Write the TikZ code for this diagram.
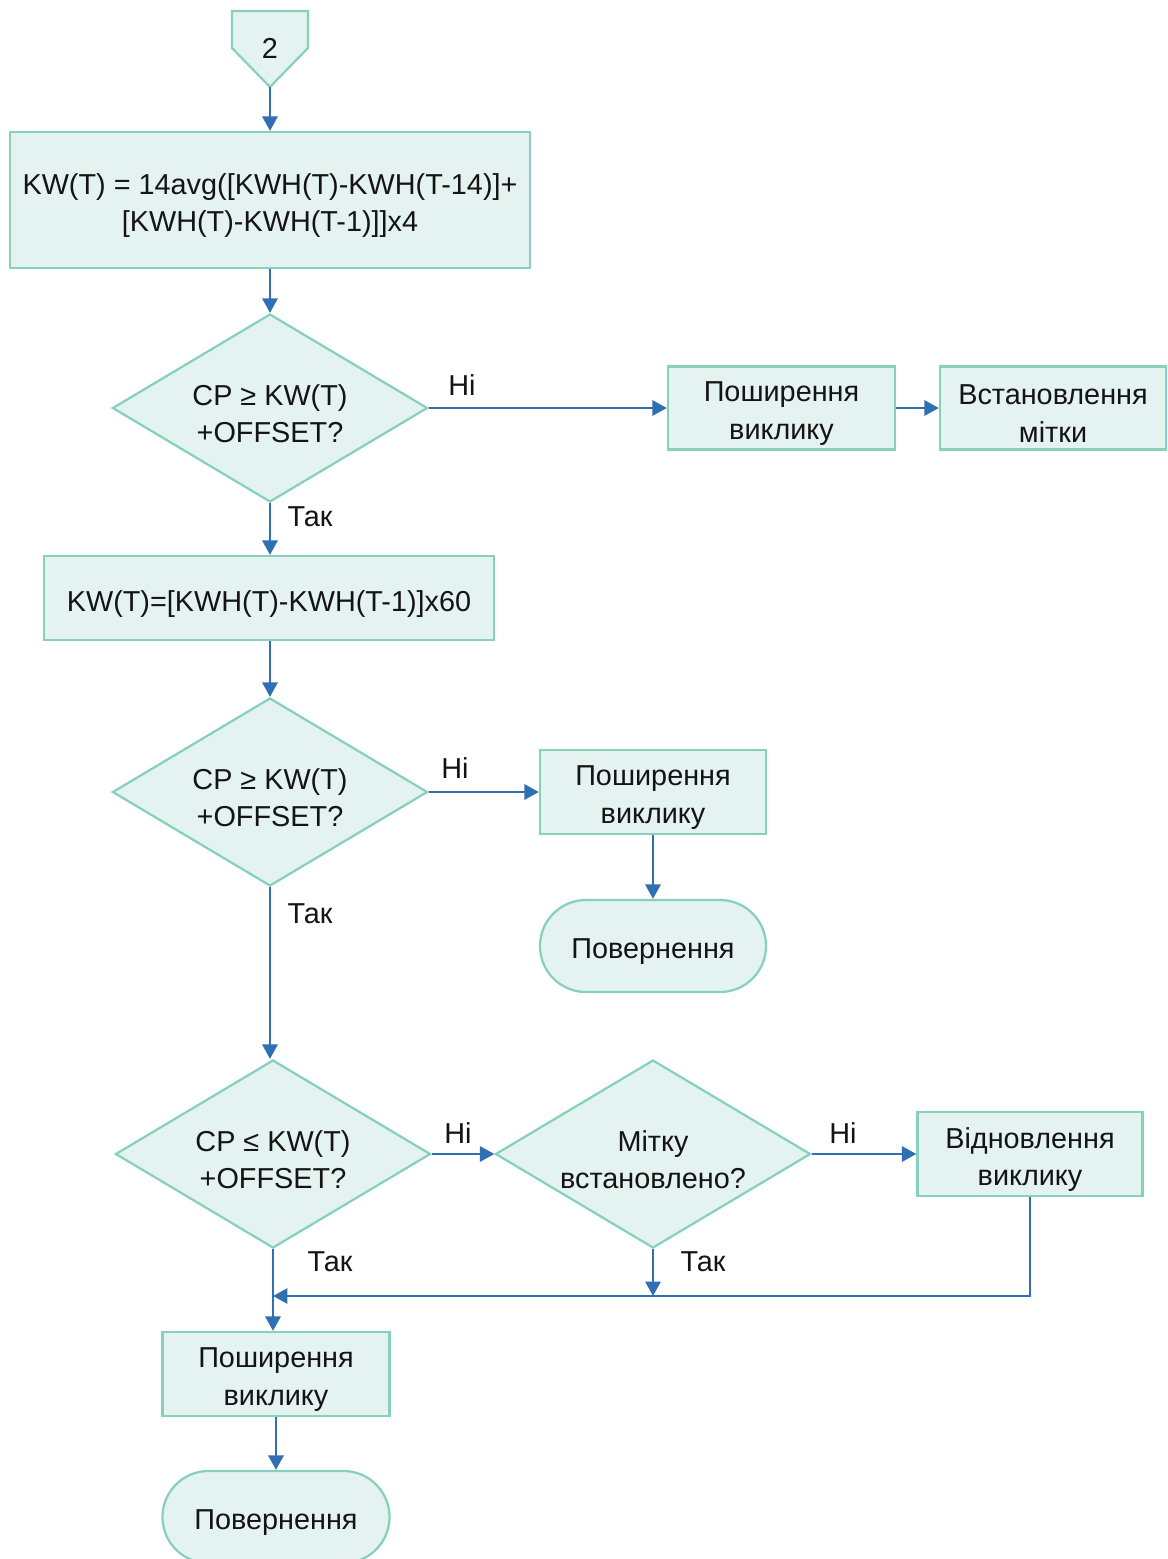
\documentclass[tikz,border=0pt]{standalone}
\usepackage{fontspec}
\setmainfont{Liberation Sans}
\usetikzlibrary{arrows.meta,shapes.geometric}
\definecolor{boxfill}{RGB}{228,243,239}
\definecolor{boxline}{RGB}{135,208,192}
\definecolor{flow}{RGB}{48,112,178}
\definecolor{ink}{RGB}{20,20,20}

\begin{document}
\begin{tikzpicture}[x=0.025cm,y=-0.025cm,
  every node/.style={font=\fontsize{20.5}{26.5}\selectfont, text=ink},
  textlbl/.style={align=center, inner sep=0pt, yshift=-0.14cm},
  txt/.style={label={[textlbl]center:#1}},
  shapebase/.style={draw=boxline, fill=boxfill, line width=1.6pt, inner sep=0pt},
  procbox/.style args={#1 by #2}{shapebase, rectangle, minimum width=#1, minimum height=#2},
  decision/.style={shapebase, diamond, aspect=1.6, minimum width=7.875cm, minimum height=4.7cm},
  terminal/.style={shapebase, rectangle, rounded corners=1.15cm, minimum width=5.675cm, minimum height=2.3cm},
  flowline/.style={draw=flow, line width=1.7pt},
  flowarrow/.style={flowline, -{Triangle[length=0.36cm,width=0.38cm]}},
  lbl/.style={anchor=center, inner sep=0pt}]

\useasboundingbox (0,0) rectangle (1168,1559);

% off-page connector
\draw[shapebase] (232,11) -- (308,11) -- (308,48) -- (270,87) -- (232,48) -- cycle;
\node (start) at (270,48) {2};
\coordinate (stip) at (270,87);

% nodes (shape first, text placed as a centred label)
\node[procbox={13cm by 3.4cm}, txt={KW(T) = 14avg([KWH(T)-KWH(T-14)]+\\{}[KWH(T)-KWH(T-1)]]x4}] (b1) at (270,200) {};
\node[decision, txt={CP ≥ KW(T)\\+OFFSET?}] (d1) at (270,408) {};
\node[procbox={5.675cm by 2.075cm}, txt={Поширення\\виклику}] (b2) at (781.5,408) {};
\node[procbox={5.65cm by 2.075cm}, txt={Встановлення\\мітки}] (b3) at (1053,408) {};
\node[procbox={11.25cm by 2.1cm}, txt={KW(T)=[KWH(T)-KWH(T-1)]x60}] (b4) at (269,598) {};
\node[decision, txt={CP ≥ KW(T)\\+OFFSET?}] (d2) at (270,792) {};
\node[procbox={5.65cm by 2.1cm}, txt={Поширення\\виклику}] (b5) at (653,792) {};
\node[terminal, minimum width=5.65cm, txt={Повернення}] (t1) at (653,946) {};
\node[decision, txt={CP ≤ KW(T)\\+OFFSET?}] (d3) at (273,1154) {};
\node[decision, txt={Мітку\\встановлено?}] (d4) at (653,1154) {};
\node[procbox={5.625cm by 2.1cm}, txt={Відновлення\\виклику}] (b6) at (1030,1154) {};
\node[procbox={5.675cm by 2.1cm}, txt={Поширення\\виклику}] (b7) at (276,1374) {};
\node[terminal, txt={Повернення}] (t2) at (276,1517) {};

\coordinate (merge) at (273,1296);

% connectors
\draw[flowarrow] (stip) -- (b1.north);
\draw[flowarrow] (b1.south) -- (d1.north);
\draw[flowarrow] (d1.east) -- (b2.west);
\draw[flowarrow] (b2.east) -- (b3.west);
\draw[flowarrow] (d1.south) -- (d1.south |- b4.north);
\draw[flowarrow] (b4.south -| d2.north) -- (d2.north);
\draw[flowarrow] (d2.east) -- (b5.west);
\draw[flowarrow] (b5.south) -- (t1.north);
\draw[flowarrow] (d2.south) -- (d2.south |- d3.north);
\draw[flowarrow] (d3.east) -- (d4.west);
\draw[flowarrow] (d4.east) -- (b6.west);
\draw[flowarrow] (b6.south) |- (merge);
\draw[flowarrow] (d4.south) -- (d4.south |- merge);
\draw[flowarrow] (d3.south) -- (d3.south |- b7.north);
\draw[flowarrow] (b7.south) -- (t2.north);

% branch labels
\node[lbl] (n1) at (462,385) {Ні};
\node[lbl] (y1) at (310,517) {Так};
\node[lbl] (n2) at (455,768) {Ні};
\node[lbl] (y2) at (310,914) {Так};
\node[lbl] (n3) at (458,1133) {Ні};
\node[lbl] (n4) at (843,1133) {Ні};
\node[lbl] (y3) at (330,1262) {Так};
\node[lbl] (y4) at (703,1262) {Так};
\end{tikzpicture}
\end{document}
